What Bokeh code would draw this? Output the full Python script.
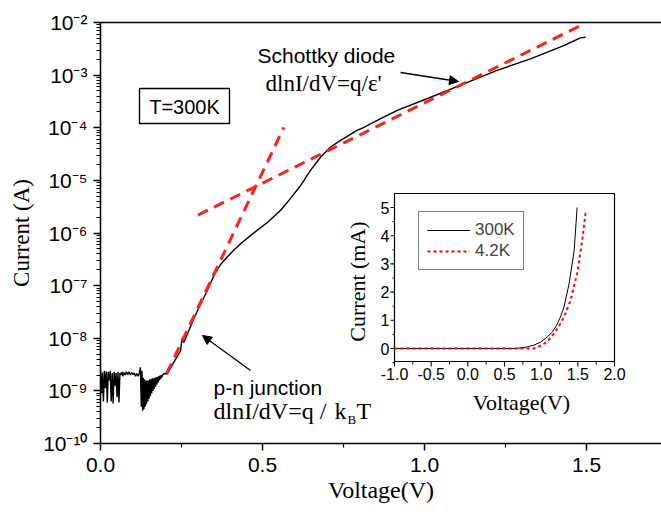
import math
from bokeh.plotting import figure
from bokeh.models import (Range1d, FixedTicker, LinearAxis, Label, Arrow, NormalHead,
                          Legend, LegendItem, CustomJSTickFormatter, PrintfTickFormatter,
                          LinearScale)
from bokeh.core.properties import value
from bokeh.embed import file_html
from bokeh.resources import INLINE

# ---------------- data ----------------
V_MAIN = [0.000, 0.003, 0.006, 0.009, 0.012, 0.015, 0.018, 0.021, 0.024, 0.027,
          0.030, 0.033, 0.036, 0.039, 0.042, 0.045, 0.048, 0.051, 0.054, 0.057,
          0.060, 0.063, 0.066, 0.069, 0.072, 0.076, 0.080, 0.084, 0.088, 0.092,
          0.096, 0.100, 0.104, 0.108, 0.112, 0.116, 0.120, 0.123, 0.126, 0.128,
          0.130, 0.132, 0.134, 0.136, 0.138, 0.140, 0.142, 0.144, 0.146, 0.148,
          0.150, 0.152, 0.154, 0.156, 0.158, 0.160, 0.162, 0.164, 0.166, 0.168,
          0.170, 0.172, 0.174, 0.176, 0.178, 0.180, 0.182, 0.184, 0.186, 0.188,
          0.190, 0.192, 0.195, 0.200, 0.206, 0.226, 0.247, 0.252, 0.257, 0.288,
          0.309, 0.329, 0.350, 0.370, 0.391, 0.411, 0.437, 0.463, 0.489, 0.515,
          0.556, 0.586, 0.617, 0.648, 0.679, 0.710, 0.741, 0.792, 0.813, 0.860,
          0.916, 1.019, 1.121, 1.224, 1.327, 1.430, 1.481, 1.497]
I_MAIN = [2.4e-9, 8.9e-10, 2.24e-9, 6.3e-10, 2.4e-9, 1.12e-9, 2.34e-9, 6.0e-10, 2.3e-9, 1.58e-9,
          2.4e-9, 6.3e-10, 2.19e-9, 5.75e-10, 2.3e-9, 1.26e-9, 2.19e-9, 7.6e-10, 2.3e-9, 6.0e-10,
          2.19e-9, 2.0e-9, 2.3e-9, 1.9e-9, 2.24e-9, 2.0e-9, 2.3e-9, 2.04e-9, 2.3e-9, 2.0e-9,
          2.24e-9, 2.04e-9, 2.19e-9, 1.9e-9, 2.14e-9, 1.9e-9, 2.19e-9, 2.8e-9, 5.0e-10, 2.4e-9,
          4.2e-10, 1.78e-9, 4.5e-10, 1.66e-9, 5.0e-10, 1.58e-9, 5.6e-10, 1.58e-9, 6.3e-10, 1.58e-9,
          7.1e-10, 1.66e-9, 7.9e-10, 1.66e-9, 8.9e-10, 1.74e-9, 1.0e-9, 1.74e-9, 1.1e-9, 1.78e-9,
          1.2e-9, 1.82e-9, 1.32e-9, 1.86e-9, 1.45e-9, 1.9e-9, 1.58e-9, 1.95e-9, 1.7e-9, 2.0e-9,
          1.82e-9, 2.04e-9, 2.09e-9, 2.14e-9, 2.09e-9, 3.47e-9, 5.75e-9, 1.0e-8, 8.3e-9, 2.34e-8,
          4.47e-8, 7.9e-8, 1.55e-7, 2.5e-7, 3.5e-7, 4.7e-7, 6.6e-7, 8.9e-7, 1.2e-6, 1.58e-6,
          2.7e-6, 4.5e-6, 7.9e-6, 1.55e-5, 2.75e-5, 4.3e-5, 5.75e-5, 8.9e-5, 1.02e-4, 1.45e-4,
          2.14e-4, 3.8e-4, 6.8e-4, 1.23e-3, 2.04e-3, 3.63e-3, 5.1e-3, 5.25e-3]

PN_FIT_V = [0.204, 0.566]
PN_FIT_I = [2.14e-9, 1.02e-4]
SCH_FIT_V = [0.301, 1.481]
SCH_FIT_I = [2.19e-6, 8.7e-3]

X_TICKS = [0.0, 0.5, 1.0, 1.5]
X_MINOR = [0.25, 0.75, 1.25]
Y_TICKS = [1e-10, 1e-9, 1e-8, 1e-7, 1e-6, 1e-5, 1e-4, 1e-3, 1e-2]
Y_TICK_LABELS = ["10⁻¹⁰", "10⁻⁹", "10⁻⁸", "10⁻⁷", "10⁻⁶", "10⁻⁵", "10⁻⁴", "10⁻³", "10⁻²"]

# inset (I-V in mA)
V_300K = [-1.0, 0.65, 0.80, 0.90, 0.99, 1.08, 1.15, 1.21, 1.26, 1.31, 1.38, 1.45, 1.49]
I_300K = [0.0, 0.0, 0.05, 0.12, 0.22, 0.40, 0.58, 0.82, 1.10, 1.46, 2.29, 3.47, 5.0]
V_4K = [-1.0, 0.90, 0.97, 1.04, 1.10, 1.17, 1.24, 1.31, 1.40, 1.49, 1.56, 1.61]
I_4K = [0.0, 0.0, 0.07, 0.17, 0.30, 0.52, 0.78, 1.11, 1.70, 2.65, 3.83, 4.9]
INSET_X_TICKS = [-1.0, -0.5, 0.0, 0.5, 1.0, 1.5, 2.0]
INSET_X_LABELS = ["-1.0", "-0.5", "0.0", "0.5", "1.0", "1.5", "2.0"]
INSET_X_MINOR = [-0.75, -0.25, 0.25, 0.75, 1.25, 1.75]
INSET_Y_TICKS = [0, 1, 2, 3, 4, 5]
INSET_Y_LABELS = ["0", "1", "2", "3", "4", "5"]
INSET_Y_MINOR = [-0.5, 0.5, 1.5, 2.5, 3.5, 4.5]

# ---------------- layout helpers (picture pixels -> data) ----------------
FL, FR, FT, FB = 100, 661, 22, 443
W, H = 661, 506
XMAX = (FR - FL) / 324.0
def dx(px):
    return (px - FL) / 324.0
def dy(py):
    return 10 ** (-2 - (py - FT) / 52.625)
def ixp(px):
    return -1.0 + (px - 394) * 3.0 / 220.0
def iyp(py):
    return (348 - py) * 5.0 / 141.0

SANS = "Liberation Sans"
SERIF = "Liberation Serif"

p = figure(width=W, height=H, x_range=Range1d(0, XMAX), y_range=Range1d(1e-10, 1e-2),
           y_axis_type="log", output_backend="svg", toolbar_location=None,
           min_border_left=FL, min_border_right=W - FR, min_border_top=FT,
           min_border_bottom=H - FB)
p.outline_line_color = None
p.grid.visible = False
p.background_fill_color = "white"
p.border_fill_color = "white"

# x axis
xa = p.xaxis[0]
xa.ticker = FixedTicker(ticks=X_TICKS, minor_ticks=X_MINOR)
xa.formatter = PrintfTickFormatter(format="%.1f")
xa.axis_label = "Voltage(V)"
# y axis
ya = p.yaxis[0]
ya.ticker = FixedTicker(ticks=Y_TICKS,
                        minor_ticks=[m * t for t in Y_TICKS[:-1] for m in range(2, 10)])
ya.formatter = CustomJSTickFormatter(args=dict(labels=Y_TICK_LABELS),
                                     code="return labels[Math.round(Math.log10(tick)) + 10];")
ya.axis_label = "Current (A)"
for ax in (xa, ya):
    ax.axis_line_width = 1.6
    ax.major_tick_line_width = 1.5
    ax.minor_tick_line_width = 1.2
    ax.major_tick_in = 0
    ax.major_tick_out = 7
    ax.minor_tick_in = 0
    ax.minor_tick_out = 4
    ax.major_label_text_font = SANS
    ax.major_label_text_font_size = "21px"
    ax.major_label_text_color = "black"
    ax.axis_label_text_font = SERIF
    ax.axis_label_text_font_style = "normal"
    ax.axis_label_text_color = "black"
xa.major_label_standoff = 7
xa.axis_label_standoff = 2
xa.axis_label_text_font_size = "24px"
ya.major_label_standoff = 6
ya.axis_label_standoff = 6
ya.axis_label_text_font_size = "23px"

top_ax = LinearAxis(ticker=FixedTicker(ticks=[]), axis_line_width=1.6,
                    major_tick_line_color=None, minor_tick_line_color=None,
                    major_label_text_font_size="0px")
p.add_layout(top_ax, "above")

# main curve and fits
p.line(V_MAIN, I_MAIN, line_color="black", line_width=1.4)
RED = "#ff2020"
p.line(PN_FIT_V, PN_FIT_I, line_color=RED, line_width=3, line_dash="11 7")
p.line(SCH_FIT_V, SCH_FIT_I, line_color=RED, line_width=3, line_dash="11 7")

# annotations
def lab(x, y, text, font, size, align="left", baseline="alphabetic"):
    p.add_layout(Label(x=x, y=y, text=text, text_font=font, text_font_size=size,
                       text_align=align, text_baseline=baseline, text_color="black"))

lab(dx(257), dy(55), "Schottky diode", SANS, "21px")
lab(dx(265), dy(83), "dlnI/dV=q/ε'", SERIF, "23px")
p.add_layout(Arrow(end=NormalHead(size=9, fill_color="black", line_color="black"),
                   x_start=dx(400), y_start=dy(72), x_end=dx(458), y_end=dy(81),
                   line_width=1.3, line_color="black"))

p.quad(left=[dx(139)], right=[dx(229)], top=[dy(88)], bottom=[dy(123)],
       fill_color="white", line_color="black", line_width=1.4)
lab(dx(184), dy(106), "T=300K", SANS, "20px", align="center", baseline="middle")

lab(dx(213), dy(387), "p-n junction", SANS, "21px")
lab(dx(213), dy(410), "dlnI/dV=q /", SERIF, "24px")
lab(dx(334), dy(410), "k", SERIF, "24px")
lab(dx(347), dy(419), "B", SERIF, "13px")
lab(dx(356), dy(410), "T", SERIF, "24px")
p.add_layout(Arrow(end=NormalHead(size=9, fill_color="black", line_color="black"),
                   x_start=dx(250), y_start=dy(370), x_end=dx(202), y_end=dy(335),
                   line_width=1.3, line_color="black"))

# ---------------- inset drawn on extra (linear) ranges ----------------
p.extra_x_ranges = {"ix": Range1d(ixp(FL), ixp(FR))}
p.extra_y_ranges = {"iy": Range1d(iyp(FB), iyp(FT))}
p.extra_x_scales = {"ix": LinearScale()}
p.extra_y_scales = {"iy": LinearScale()}
IR = dict(x_range_name="ix", y_range_name="iy")
YB, YT = iyp(361), iyp(193)
XL, XR = -1.0, 2.0
px_y = 5.0 / 141.0
px_x = 3.0 / 220.0

p.quad(left=[XL], right=[XR], bottom=[YB], top=[YT], fill_color="white",
       line_color="black", line_width=1.2, **IR)
p.segment(x0=INSET_X_TICKS, x1=INSET_X_TICKS, y0=[YB] * len(INSET_X_TICKS),
          y1=[YB - 5 * px_y] * len(INSET_X_TICKS), line_color="black", line_width=1.1, **IR)
p.segment(x0=INSET_X_MINOR, x1=INSET_X_MINOR, y0=[YB] * len(INSET_X_MINOR),
          y1=[YB - 3 * px_y] * len(INSET_X_MINOR), line_color="black", line_width=1.0, **IR)
p.segment(x0=[XL] * len(INSET_Y_TICKS), x1=[XL - 4 * px_x] * len(INSET_Y_TICKS),
          y0=INSET_Y_TICKS, y1=INSET_Y_TICKS, line_color="black", line_width=1.1, **IR)
p.segment(x0=[XL] * len(INSET_Y_MINOR), x1=[XL - 2 * px_x] * len(INSET_Y_MINOR),
          y0=INSET_Y_MINOR, y1=INSET_Y_MINOR, line_color="black", line_width=1.0, **IR)
p.text(x=INSET_X_TICKS, y=[YB - 6 * px_y] * len(INSET_X_TICKS), text=INSET_X_LABELS,
       text_font=value(SANS), text_font_size=value("16px"), text_align="center",
       text_baseline="top", text_color="black", **IR)
p.text(x=[XL - 5 * px_x] * len(INSET_Y_TICKS), y=INSET_Y_TICKS, text=INSET_Y_LABELS,
       text_font=value(SANS), text_font_size=value("16px"), text_align="right",
       text_baseline="middle", text_color="black", **IR)
p.text(x=[ixp(357)], y=[iyp(281)], text=["Current (mA)"], angle=math.pi / 2,
       text_font=value(SERIF), text_font_size=value("22px"), text_align="center",
       text_baseline="middle", text_color="black", **IR)
p.text(x=[ixp(521)], y=[iyp(402)], text=["Voltage(V)"],
       text_font=value(SERIF), text_font_size=value("22px"), text_align="center",
       text_baseline="middle", text_color="black", **IR)

r300 = p.line(V_300K, I_300K, line_color="black", line_width=1.0, **IR)
r4k = p.line(V_4K, I_4K, line_color="#ff0000", line_width=2.0, line_dash="3 3", **IR)

legend = Legend(items=[LegendItem(label="300K", renderers=[r300]),
                       LegendItem(label="4.2K", renderers=[r4k])],
                location=(418 - FL, FB - 270), border_line_color="black",
                border_line_width=1.5, label_text_font=SANS, label_text_font_size="17px",
                glyph_width=43, glyph_height=16, label_height=18, padding=8, spacing=1,
                margin=0, label_standoff=5, background_fill_alpha=1.0)
p.add_layout(legend, "center")

open("out.html", "w").write(file_html(p, INLINE))
